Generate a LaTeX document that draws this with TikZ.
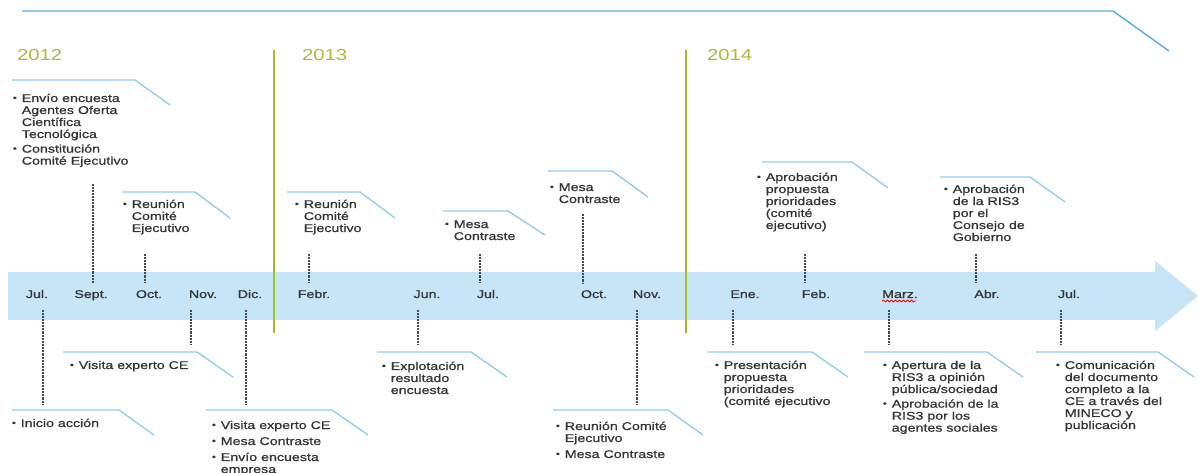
\documentclass[tikz,border=0pt]{standalone}
\usepackage{fontspec}
\setmainfont{Liberation Sans}[FakeStretch=1.27,FakeBold=0.9]
\newfontfamily\yrfont{Liberation Sans}[FakeStretch=1.27]
\usetikzlibrary{decorations.pathmorphing}
\definecolor{band}{HTML}{C6E5F6}
\definecolor{call}{HTML}{8FCDEE}
\definecolor{topl}{HTML}{5AAFE0}
\definecolor{yr}{HTML}{A9BC37}
\definecolor{yrline}{HTML}{A0BD2A}
\definecolor{txt}{HTML}{353535}
\definecolor{dotc}{HTML}{4A4A4A}
\newcommand\bl{\makebox[6.6pt][l]{\raisebox{0.9pt}{\fontsize{6.5pt}{6.5pt}\selectfont\textbullet}}}
\tikzset{
 every node/.style={inner sep=0pt, outer sep=0pt, text=txt},
 mon/.style={font=\fontsize{8.4pt}{9pt}\selectfont, anchor=base},
 yearlbl/.style={font=\yrfont\fontsize{12pt}{14pt}\selectfont, text=yr, anchor=base west},
 callout/.style={draw=call, line width=1pt},
 dotln/.style={draw=dotc, line width=1.3pt, dash pattern=on 0.55pt off 0.55pt},
 blk/.style={font=\fontsize{8.4pt}{9pt}\selectfont, anchor=base west, align=left},
 yearline/.style={draw=yrline, line width=2pt},
}
\begin{document}
\begin{tikzpicture}[x=0.75pt,y=-0.75pt]
\useasboundingbox (0,0) rectangle (1198,473);
% top line
\draw[draw=topl, line width=1.1pt] (22,11) coordinate (t0) -- (1113,11) coordinate (t1) -- (1169,51) coordinate (t2);
% band arrow
\fill[band] (8,272) -- (1155,272) -- (1155,261) -- (1198,296) -- (1155,331) -- (1155,320) -- (8,320) -- cycle;
% year lines
\draw[yearline] (274,50) coordinate (g1a) -- (274,333) coordinate (g1b);
\draw[yearline] (686,50) coordinate (g2a) -- (686,333) coordinate (g2b);
% years
\node[yearlbl] (y12) at (17,61) {2012};
\node[yearlbl] (y13) at (302,61) {2013};
\node[yearlbl] (y14) at (707,61) {2014};
% months
\node[mon] (m1) at (37,298) {Jul.};
\node[mon] (m2) at (91,298) {Sept.};
\node[mon] (m3) at (149,298) {Oct.};
\node[mon] (m4) at (203,298) {Nov.};
\node[mon] (m5) at (250,298) {Dic.};
\node[mon] (m6) at (314,298) {Febr.};
\node[mon] (m7) at (427,298) {Jun.};
\node[mon] (m8) at (488,298) {Jul.};
\node[mon] (m9) at (594,298) {Oct.};
\node[mon] (m10) at (647,298) {Nov.};
\node[mon] (m11) at (745,298) {Ene.};
\node[mon] (m12) at (816,298) {Feb.};
\node[mon] (m13) at (900,298) {Marz.};
\node[mon] (m14) at (987,298) {Abr.};
\node[mon] (m15) at (1069,298) {Jul.};
\draw[red, line width=0.6pt, decorate, decoration={snake, amplitude=0.7pt, segment length=3pt}] (m13.base west) ++(0,3) coordinate (sq1) -- ++(34,0) coordinate (sq2);
% dotted connectors above band
\draw[dotln] (93,184) coordinate (a1) -- (93,283) coordinate (a1b);
\draw[dotln] (145,254) coordinate (a2) -- (145,283) coordinate (a2b);
\draw[dotln] (309,254) coordinate (a3) -- (309,283) coordinate (a3b);
\draw[dotln] (480,254) coordinate (a4) -- (480,283) coordinate (a4b);
\draw[dotln] (583,214) coordinate (a5) -- (583,283) coordinate (a5b);
\draw[dotln] (805,254) coordinate (a6) -- (805,283) coordinate (a6b);
\draw[dotln] (976,254) coordinate (a7) -- (976,283) coordinate (a7b);
% dotted connectors below band
\draw[dotln] (43,310) coordinate (b1) -- (43,405) coordinate (b1b);
\draw[dotln] (191,310) coordinate (b2) -- (191,345) coordinate (b2b);
\draw[dotln] (246,310) coordinate (b3) -- (246,405) coordinate (b3b);
\draw[dotln] (418,310) coordinate (b4) -- (418,345) coordinate (b4b);
\draw[dotln] (637,310) coordinate (b5) -- (637,405) coordinate (b5b);
\draw[dotln] (733,310) coordinate (b6) -- (733,345) coordinate (b6b);
\draw[dotln] (889,310) coordinate (b7) -- (889,345) coordinate (b7b);
\draw[dotln] (1061,310) coordinate (b8) -- (1061,345) coordinate (b8b);
% callout lines top
\draw[callout] (12,80) -- (135,80) -- (170,105);
\draw[callout] (122,192) -- (195,192) -- (230,218);
\draw[callout] (287,192) -- (360,192) -- (395,218);
\draw[callout] (443,211) -- (508,211) -- (545,235);
\draw[callout] (548,171) -- (612,171) -- (648,197);
\draw[callout] (762,162) -- (852,162) -- (888,188);
\draw[callout] (940,177) -- (1030,177) -- (1065,202);
% callout lines bottom
\draw[callout] (63,352) -- (197,352) -- (233,377);
\draw[callout] (12,410) -- (119,410) -- (154,435);
\draw[callout] (206,410) -- (332,410) -- (368,435);
\draw[callout] (377,352) -- (471,352) -- (507,377);
\draw[callout] (553,410) -- (668,410) -- (703,435);
\draw[callout] (707,352) -- (812,352) -- (848,377);
\draw[callout] (864,352) -- (987,352) -- (1023,377);
\draw[callout] (1036,352) -- (1158,352) -- (1194,377);
% texts top
\node[blk] (c1) at (13,102) {\begin{tabular}[t]{@{}l@{}l@{}}\bl & Envío encuesta\\ & Agentes Oferta\\ & Científica\\ & Tecnológica\\[2pt] \bl & Constitución\\ & Comité Ejecutivo\end{tabular}};
\node[blk] (c2) at (123,208) {\begin{tabular}[t]{@{}l@{}l@{}}\bl & Reunión\\ & Comité\\ & Ejecutivo\end{tabular}};
\node[blk] (c3) at (295,208) {\begin{tabular}[t]{@{}l@{}l@{}}\bl & Reunión\\ & Comité\\ & Ejecutivo\end{tabular}};
\node[blk] (c4) at (445,228) {\begin{tabular}[t]{@{}l@{}l@{}}\bl & Mesa\\ & Contraste\end{tabular}};
\node[blk] (c5) at (550,191) {\begin{tabular}[t]{@{}l@{}l@{}}\bl & Mesa\\ & Contraste\end{tabular}};
\node[blk] (c6) at (757,181) {\begin{tabular}[t]{@{}l@{}l@{}}\bl & Aprobación\\ & propuesta\\ & prioridades\\ & (comité\\ & ejecutivo)\end{tabular}};
\node[blk] (c7) at (944,193) {\begin{tabular}[t]{@{}l@{}l@{}}\bl & Aprobación\\ & de la RIS3\\ & por el\\ & Consejo de\\ & Gobierno\end{tabular}};
% texts bottom
\node[blk] (d1) at (70,369) {\begin{tabular}[t]{@{}l@{}l@{}}\bl & Visita experto CE\end{tabular}};
\node[blk] (d2) at (12,427) {\begin{tabular}[t]{@{}l@{}l@{}}\bl & Inicio acción\end{tabular}};
\node[blk] (d3) at (212,429) {\begin{tabular}[t]{@{}l@{}l@{}}\bl & Visita experto CE\\[3pt] \bl & Mesa Contraste\\[3pt] \bl & Envío encuesta\\ & empresa\end{tabular}};
\node[blk] (d4) at (382,370) {\begin{tabular}[t]{@{}l@{}l@{}}\bl & Explotación\\ & resultado\\ & encuesta\end{tabular}};
\node[blk] (d5) at (556,430) {\begin{tabular}[t]{@{}l@{}l@{}}\bl & Reunión Comité\\ & Ejecutivo\\[3pt] \bl & Mesa Contraste\end{tabular}};
\node[blk] (d6) at (715,369) {\begin{tabular}[t]{@{}l@{}l@{}}\bl & Presentación\\ & propuesta\\ & prioridades\\ & (comité ejecutivo\end{tabular}};
\node[blk] (d7) at (883,369) {\begin{tabular}[t]{@{}l@{}l@{}}\bl & Apertura de la\\ & RIS3 a opinión\\ & pública/sociedad\\[2pt] \bl & Aprobación de la\\ & RIS3 por los\\ & agentes sociales\end{tabular}};
\node[blk] (d8) at (1056,369) {\begin{tabular}[t]{@{}l@{}l@{}}\bl & Comunicación\\ & del documento\\ & completo a la\\ & CE a través del\\ & MINECO y\\ & publicación\end{tabular}};
\end{tikzpicture}
\end{document}
